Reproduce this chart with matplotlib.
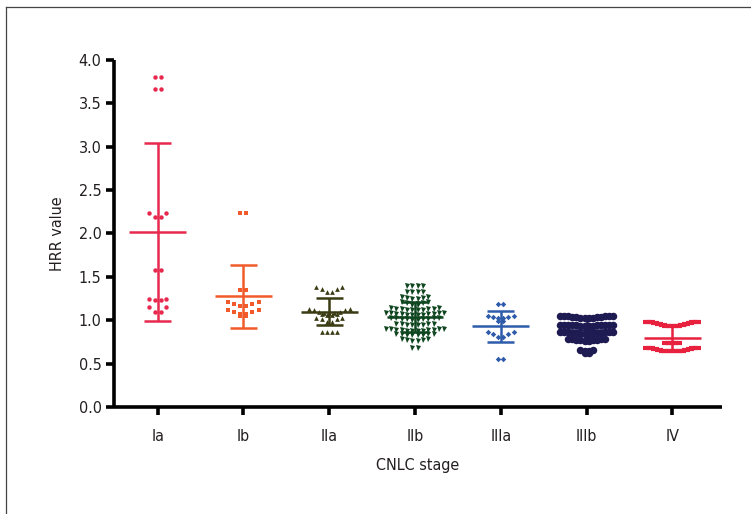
import numpy as np
import matplotlib
matplotlib.use("Agg")
import matplotlib.pyplot as plt
from matplotlib.lines import Line2D

plt.rcParams['font.family'] = ['DejaVu Sans']
plt.rcParams['font.stretch'] = 'condensed'

stages = ['Ia', 'Ib', 'IIa', 'IIb', 'IIIa', 'IIIb', 'IV']

hrr_Ia = [3.80, 3.80, 3.66, 3.66, 2.24, 2.24, 2.19, 2.19, 1.58, 1.58,
          1.25, 1.25, 1.23, 1.23, 1.15, 1.15, 1.09, 1.09]
hrr_Ib = [2.24, 2.24, 1.35, 1.35, 1.21, 1.21, 1.19, 1.19, 1.16, 1.16,
          1.12, 1.12, 1.10, 1.10, 1.07, 1.07, 1.05, 1.05]
hrr_IIa = [1.38, 1.38, 1.36, 1.36, 1.33, 1.33,
           1.13, 1.13, 1.12, 1.12, 1.09, 1.09, 1.08, 1.08, 1.08, 1.07, 1.07, 1.06, 1.06,
           1.02, 1.02, 1.01, 1.01, 0.98, 0.98,
           0.87, 0.87, 0.86, 0.86]
hrr_IIb = [1.40, 1.40, 1.39, 1.39,
           1.33, 1.33, 1.32, 1.32,
           1.27, 1.27, 1.26, 1.26, 1.25, 1.25,
           1.21, 1.21, 1.20, 1.20, 1.19, 1.19, 1.18, 1.18,
           1.14, 1.14, 1.13, 1.13, 1.13, 1.13, 1.12, 1.12, 1.12, 1.12,
           1.08, 1.08, 1.08, 1.08, 1.07, 1.07, 1.07, 1.07, 1.06, 1.06, 1.06, 1.06,
           1.02, 1.02, 1.02, 1.02, 1.01, 1.01, 1.01, 1.01, 1.00, 1.00,
           0.96, 0.96, 0.96, 0.96, 0.95, 0.95, 0.95, 0.95,
           0.90, 0.90, 0.90, 0.90, 0.89, 0.89, 0.89, 0.89, 0.88, 0.88, 0.88, 0.88,
           0.84, 0.84, 0.84, 0.84, 0.83, 0.83, 0.83, 0.83,
           0.78, 0.78, 0.77, 0.77, 0.76, 0.76,
           0.68, 0.68]
hrr_IIIa = [1.19, 1.19, 1.05, 1.05, 1.04, 1.04, 1.03, 1.03, 0.99, 0.99,
            0.86, 0.86, 0.84, 0.84, 0.81, 0.81, 0.55, 0.55]
hrr_IIIb = [1.05, 1.05, 1.05, 1.05, 1.05, 1.05, 1.04, 1.04, 1.04, 1.04, 1.03, 1.03, 1.03, 1.03,
            0.95, 0.95, 0.95, 0.95, 0.95, 0.95, 0.94, 0.94, 0.94, 0.94, 0.93, 0.93, 0.93, 0.93,
            0.86, 0.86, 0.86, 0.86, 0.86, 0.86, 0.85, 0.85, 0.85, 0.85, 0.84, 0.84, 0.84, 0.84,
            0.78, 0.78, 0.78, 0.78, 0.77, 0.77, 0.77, 0.77, 0.76, 0.76,
            0.66, 0.66, 0.65, 0.65, 0.62, 0.62]
hrr_IV = [0.98, 0.98, 0.98, 0.98, 0.97, 0.97, 0.96, 0.96, 0.94, 0.94,
          0.93, 0.93, 0.93, 0.93,
          0.74, 0.74, 0.74, 0.74,
          0.68, 0.68, 0.68, 0.68, 0.67, 0.67, 0.66, 0.66, 0.65, 0.65,
          0.64, 0.64, 0.64, 0.64]

groups = [hrr_Ia, hrr_Ib, hrr_IIa, hrr_IIb, hrr_IIIa, hrr_IIIb, hrr_IV]

# styles
colors = ['#e8294e', '#f15a2b', '#3a3b12', '#0f4620', '#2f5caa', '#1e1a52', '#e8213f']
markers = ['o', 's', '^', 'v', 'D', 'o', '_']
msizes = [3.2, 3.4, 3.4, 3.6, 2.8, 5.4, 6.0]
row_h = [0.07, 0.07, 0.05, 0.03, 0.06, 0.04, 0.055]
spacing = [0.068, 0.07, 0.06, 0.062, 0.06, 0.047, 0.045]

fig = plt.figure(figsize=(7.51, 5.14), dpi=100)
ax = fig.add_axes([0.1518, 0.2082, 0.8096, 0.6751])


def swarm_offsets(vals, h, d):
    vals = np.asarray(vals, dtype=float)
    order = np.argsort(-vals, kind='stable')
    offs = np.zeros(len(vals))
    rows = []
    cur = []
    top = None
    for i in order:
        if top is None or top - vals[i] < h:
            if top is None:
                top = vals[i]
            cur.append(i)
        else:
            rows.append(cur)
            cur = [i]
            top = vals[i]
    if cur:
        rows.append(cur)
    for r in rows:
        n = len(r)
        r_sorted = sorted(r, key=lambda k: vals[k])
        if n % 2 == 1:
            slots = [0.0]
            for k in range(1, n // 2 + 1):
                slots += [-k * d, k * d]
        else:
            slots = []
            for k in range(n // 2):
                slots += [-(k + 0.5) * d, (k + 0.5) * d]
        for idx, s in zip(r_sorted, slots):
            offs[idx] = s
    return offs


for gi, vals in enumerate(groups):
    vals = np.asarray(vals)
    offs = swarm_offsets(vals, row_h[gi], spacing[gi])
    c = colors[gi]
    if markers[gi] == '_':
        ax.plot(gi + offs, vals, linestyle='none', marker='_', markersize=msizes[gi],
                markeredgewidth=3.0, color=c, zorder=3)
    else:
        ax.plot(gi + offs, vals, linestyle='none', marker=markers[gi], markersize=msizes[gi],
                color=c, markeredgewidth=0, zorder=3)
    m = vals.mean()
    sd = vals.std(ddof=1)
    ax.vlines(gi, m - sd, m + sd, color=c, lw=1.8, zorder=4)
    ax.hlines([m - sd, m + sd], gi - 0.16, gi + 0.16, color=c, lw=1.8, zorder=4)
    ax.hlines(m, gi - 0.33, gi + 0.33, color=c, lw=1.8, zorder=4)

ax.set_xlim(-0.51, 6.58)
ax.set_ylim(0, 4.0)
ax.set_yticks(np.arange(0, 4.01, 0.5))
ax.set_yticklabels([f'{v:.1f}' for v in np.arange(0, 4.01, 0.5)])
ax.set_xticks(range(len(stages)))
ax.set_xticklabels(stages)

for s in ['top', 'right']:
    ax.spines[s].set_visible(False)
for s in ['left', 'bottom']:
    ax.spines[s].set_linewidth(2.6)
    ax.spines[s].set_capstyle('butt')
ax.tick_params(axis='both', width=2.6, length=6, labelsize=11.5, color='black',
               labelcolor='#231f20')
ax.tick_params(axis='x', pad=10)
ax.tick_params(axis='y', pad=3)

ax.set_ylabel('HRR value', fontsize=11.5, labelpad=10, color='#231f20')
ax.set_xlabel('CNLC stage', fontsize=11.5, labelpad=10, color='#231f20')

# figure frame (top and left edge)
fig.add_artist(Line2D([6 / 751, 1.0], [1 - 7 / 514, 1 - 7 / 514], color='#444444', lw=0.9,
                      transform=fig.transFigure))
fig.add_artist(Line2D([6 / 751, 6 / 751], [0, 1 - 7 / 514], color='#444444', lw=0.9,
                      transform=fig.transFigure))

fig.savefig('out.png', dpi=100)
